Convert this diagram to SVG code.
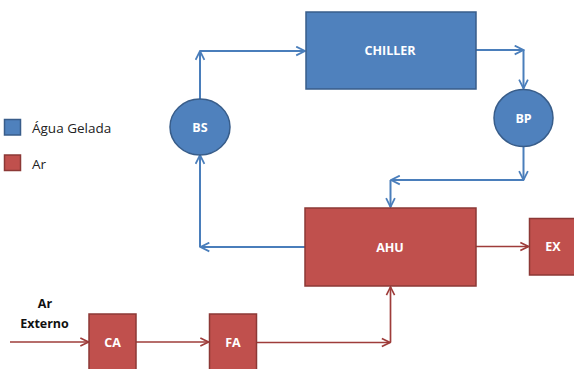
<svg xmlns="http://www.w3.org/2000/svg" width="574" height="369" viewBox="0 0 574 369">
<style>
.b{fill:#4F81BD;stroke:#385D8A;stroke-width:1.5}
.r{fill:#C0504D;stroke:#8C3836;stroke-width:1.5}
.t{font-family:"Open Sans","Liberation Sans",sans-serif;font-weight:bold;font-size:12.5px;fill:#fff;text-anchor:middle;dominant-baseline:central}
.lg{font-family:"Open Sans","Liberation Sans",sans-serif;font-size:13.5px;fill:#222}
.bl{fill:none;stroke:#4A7EBB;stroke-width:2;marker-end:url(#ab)}
.rl{fill:none;stroke:#9E3C3A;stroke-width:1.7;marker-end:url(#ar)}
.ext{font-family:"Open Sans","Liberation Sans",sans-serif;font-weight:bold;font-size:12.5px;fill:#111;text-anchor:middle}
</style>
<defs>
<marker id="ab" viewBox="0 0 10 10" refX="9" refY="5" markerWidth="5.5" markerHeight="5.5" orient="auto" markerUnits="strokeWidth">
<polyline points="1,1 9,5 1,9" fill="none" stroke="#4A7EBB" stroke-width="1.6"/>
</marker>
<marker id="ar" viewBox="0 0 10 10" refX="9" refY="5" markerWidth="6" markerHeight="6" orient="auto" markerUnits="strokeWidth">
<polyline points="1,1 9,5 1,9" fill="none" stroke="#9E3C3A" stroke-width="1.6"/>
</marker>
</defs>
<g id="legend">
<rect x="4.5" y="119.5" width="16" height="15.5" class="b"/>
<text x="32" y="133" class="lg">Água Gelada</text>
<rect x="4.5" y="155" width="16" height="15.5" class="r"/>
<text x="32" y="169" class="lg">Ar</text>
</g>
<g id="connectors">
<path d="M200,99 V51" class="bl"/>
<path d="M200,51 H305" class="bl"/>
<path d="M476,50 H523.5" class="bl"/>
<path d="M523.5,50 V88.5" class="bl"/>
<path d="M523.5,147 V180" class="bl"/>
<path d="M523.5,180 H391" class="bl"/>
<path d="M390.5,180 V207" class="bl"/>
<path d="M305,247 H200.5" class="bl"/>
<path d="M200,247 V155" class="bl"/>
<path d="M476,246.5 H528.5" class="rl"/>
<path d="M10,342 H88.5" class="rl"/>
<path d="M136,342 H208.5" class="rl"/>
<path d="M256.5,342.5 H390" class="rl"/>
<path d="M390.5,342.5 V287" class="rl"/>
</g>
<g id="chiller"><rect x="306" y="12" width="170" height="77" class="b"/><text x="390" y="50.5" class="t">CHILLER</text></g>
<g id="bs"><ellipse cx="200" cy="127" rx="30" ry="28" class="b"/><text x="200" y="127" class="t">BS</text></g>
<g id="bp"><ellipse cx="523.5" cy="118" rx="29.5" ry="28.5" class="b"/><text x="523.5" y="118" class="t">BP</text></g>
<g id="ahu"><rect x="305" y="208" width="171" height="78" class="r"/><text x="390" y="247" class="t">AHU</text></g>
<g id="ex"><rect x="529.5" y="218.5" width="46" height="56.5" class="r"/><text x="553" y="246.5" class="t">EX</text></g>
<g id="ca"><rect x="89" y="314" width="47" height="58" class="r"/><text x="112.5" y="342" class="t">CA</text></g>
<g id="fa"><rect x="209.5" y="314" width="47" height="58" class="r"/><text x="233" y="342" class="t">FA</text></g>
<g id="ar-externo"><text x="45" y="308" class="ext">Ar</text><text x="44.5" y="328" class="ext">Externo</text></g>
</svg>
